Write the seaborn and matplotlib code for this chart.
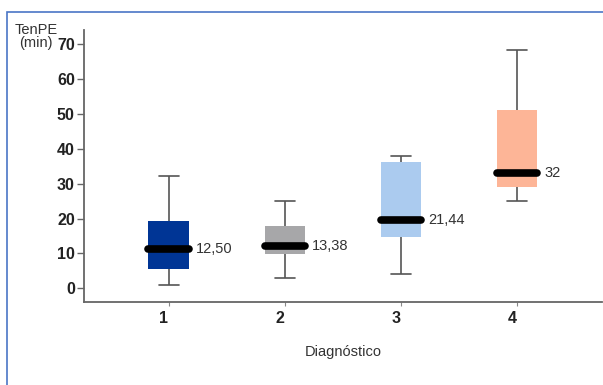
import numpy as np
import pandas as pd
import matplotlib
matplotlib.use("Agg")
import matplotlib.pyplot as plt
import matplotlib.transforms as mtransforms
from matplotlib.patches import Rectangle
import seaborn as sns

# five-number summaries (min, Q1, median, Q3, max)
diagnosticos = ["1", "2", "3", "4"]
diag1 = [1.0, 5.5, 11.3, 19.3, 32.2]
diag2 = [3.0, 9.8, 12.2, 17.9, 25.0]
diag3 = [4.0, 14.8, 19.6, 36.3, 38.0]
diag4 = [25.0, 29.1, 33.0, 51.0, 68.3]
median_labels = ["12,50", "13,38", "21,44", "32"]
box_colors = ["#003595", "#a7a7a9", "#abcbef", "#fdb597"]

df = pd.DataFrame({
    "Diagnóstico": np.repeat(diagnosticos, 5),
    "TenPE": diag1 + diag2 + diag3 + diag4,
})

sns.set_style("white")
plt.rcParams["font.family"] = ["Liberation Sans", "DejaVu Sans"]

fig = plt.figure(figsize=(6.03, 3.85), dpi=100)
ax = fig.add_axes([0.1398, 0.2148, 0.858, 0.7072])

sns.boxplot(data=df, x="Diagnóstico", y="TenPE", hue="Diagnóstico",
            palette=box_colors, saturation=1, legend=False, width=0.35,
            whis=np.inf, linecolor="#555555", linewidth=1.2, ax=ax,
            boxprops=dict(linewidth=0),
            medianprops=dict(color="black", linewidth=5.5, solid_capstyle="round"))

# median labels
for i, (vals, lab) in enumerate(zip([diag1, diag2, diag3, diag4], median_labels)):
    ax.annotate(lab, xy=(i + 0.175, np.median(vals)), xytext=(5, 0),
                textcoords="offset points", va="center", ha="left",
                fontsize=10.5, color="#333333")

ax.set_xlim(-0.728, 3.73)
ax.set_ylim(-4, 74)
ax.set_yticks(range(0, 71, 10))
ax.set_xlabel("")
ax.set_ylabel("")

for side in ["top", "right"]:
    ax.spines[side].set_visible(False)
for side in ["left", "bottom"]:
    ax.spines[side].set_color("#666666")
    ax.spines[side].set_linewidth(1.3)

ax.tick_params(axis="y", direction="out", length=4.8, width=1, color="#666666",
               pad=2, left=True)
ax.tick_params(axis="x", direction="out", length=3, width=0.8, color="#888888",
               pad=3.6, bottom=True)
for lab in ax.get_yticklabels() + ax.get_xticklabels():
    lab.set_family(["Liberation Sans Narrow", "Liberation Sans"])
    lab.set_stretch("condensed")
    lab.set_fontweight("bold")
    lab.set_fontsize(11.5)
    lab.set_color("#222222")

# x tick labels sit a little left of their ticks
shift = mtransforms.ScaledTranslation(-5 / 100, 0, fig.dpi_scale_trans)
for lab in ax.get_xticklabels():
    lab.set_transform(lab.get_transform() + shift)

fig.text(36 / 603, 1 - 23 / 385, "TenPE\n(min)", ha="center", va="top",
         fontsize=10.5, color="#333333", linespacing=0.9)
fig.text(343 / 603, 1 - 352 / 385, "Diagnóstico", ha="center", va="center",
         fontsize=10.5, color="#333333")

# blue frame around the figure
fig.patches.append(Rectangle((7.3 / 603, -0.1), 1.2, (385 - 12.3) / 385 + 0.1,
                             transform=fig.transFigure, fill=False,
                             edgecolor="#4a76c6", linewidth=1.2))

fig.savefig("out.png", dpi=100)
